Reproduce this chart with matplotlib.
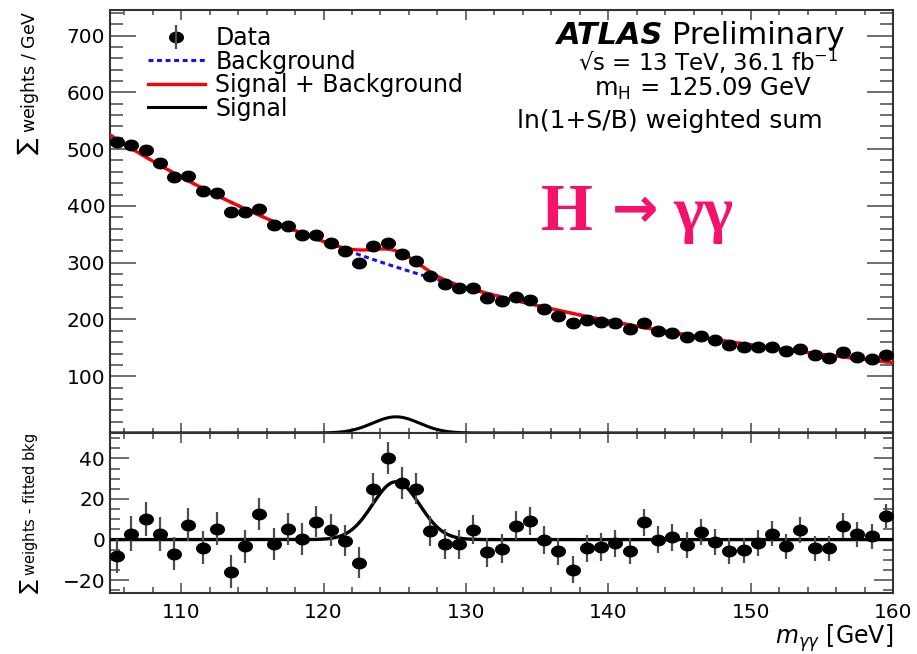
import numpy as np
import matplotlib
matplotlib.use("Agg")
import matplotlib.pyplot as plt
from matplotlib.path import Path
from matplotlib.ticker import MultipleLocator, FixedLocator

plt.rcParams['font.family'] = ['DejaVu Sans']
plt.rcParams['mathtext.fontset'] = 'dejavusans'

# --- binning: 1 GeV bins in m_yy ---
m_lo, m_hi = 105.0, 160.0
bin_width = 1.0
mass = np.arange(m_lo + bin_width / 2, m_hi, bin_width)

# ln(1+S/B) weighted sum per GeV
weighted_sum = [512, 507, 498, 476, 451, 452, 426, 423, 389, 390,
                394, 367, 365, 349, 348, 334, 320, 299, 329, 334,
                315, 303, 276, 262, 255, 255, 237, 233, 239, 234,
                219, 206, 194, 199, 196, 193, 183, 194, 180, 177,
                169, 171, 164, 155, 151, 152, 152, 144, 148, 137,
                132, 142, 134, 130, 138]

# weighted sum minus fitted background
residual = [-8.1, 3.0, 10.1, 2.8, -6.9, 7.4, -3.9, 5.4, -15.8, -3.2,
            12.6, -2.2, 5.4, 0.1, 8.9, 4.6, -0.5, -11.3, 25.1, 40.2,
            27.9, 25.1, 4.2, -2.3, -2.3, 4.9, -6.3, -4.4, 6.9, 9.0,
            -0.2, -5.8, -14.8, -4.3, -3.6, -1.8, -5.6, 8.6, 0.0, 1.1,
            -2.5, 3.6, -1.0, -5.6, -5.3, -1.7, 3.0, -3.3, 4.7, -4.3,
            -4.3, 6.9, 2.6, 1.6, 11.5]

stat_err = [8.5, 8.5, 8.4, 8.4, 8.3, 8.3, 8.2, 8.2, 8.1, 8.1,
            8.0, 8.0, 7.9, 7.9, 7.8, 7.8, 7.7, 7.7, 7.7, 7.8,
            7.7, 7.6, 7.4, 7.3, 7.2, 7.1, 7.1, 7.0, 7.0, 6.9,
            6.9, 6.8, 6.8, 6.7, 6.7, 6.6, 6.6, 6.6, 6.5, 6.5,
            6.4, 6.4, 6.4, 6.3, 6.3, 6.3, 6.2, 6.2, 6.2, 6.1,
            6.1, 6.1, 6.0, 6.0, 6.0]

# fit result: ln B = p0 + p1*t + p2*t^2 (t = m - 105), gaussian signal
bkg_pars = [6.263, -0.03079, 8.28e-5]
sig_amp, sig_mean, sig_sigma = 28.5, 125.09, 1.65


def bkg(m):
    t = m - m_lo
    return np.exp(bkg_pars[0] + bkg_pars[1] * t + bkg_pars[2] * t ** 2)


def sig(m):
    return sig_amp * np.exp(-0.5 * ((m - sig_mean) / sig_sigma) ** 2)


mm = np.linspace(m_lo, m_hi, 800)

# slightly flattened dot marker
th = np.linspace(0, 2 * np.pi, 64)
dot = Path(np.column_stack([1.3 * np.cos(th), np.sin(th)]))

W, H = 917, 654
fig = plt.figure(figsize=(W / 100, H / 100), dpi=100)
ax = fig.add_axes([110 / W, 1 - 433 / H, 783 / W, 423 / H])
ax2 = fig.add_axes([110 / W, 1 - 593 / H, 783 / W, 160 / H])

err_kw = dict(fmt='none', ecolor='#4d4d4d', elinewidth=1.6, capsize=0, zorder=4)
mk_kw = dict(ls='none', marker=dot, ms=9.8, color='black', zorder=5)

# --- main panel ---
ax.plot(mm, bkg(mm), color='#1010ff', lw=2.2, ls=(0, (1.6, 1.2)), zorder=2)
ax.plot(mm, bkg(mm) + sig(mm), color='red', lw=2.4, zorder=3)
ax.plot(mm, sig(mm), color='black', lw=2.2, zorder=3)
ax.errorbar(mass, weighted_sum, yerr=stat_err, **err_kw)
ax.plot(mass, weighted_sum, **mk_kw)

ax.set_xlim(m_lo, m_hi)
ax.set_ylim(0, 745)
ax.xaxis.set_major_locator(MultipleLocator(10))
ax.xaxis.set_minor_locator(MultipleLocator(2))
ax.yaxis.set_major_locator(FixedLocator([100, 200, 300, 400, 500, 600, 700]))
ax.yaxis.set_minor_locator(MultipleLocator(20))
ax.tick_params(which='both', direction='in', top=True, right=True,
               labelbottom=False, colors='#555555', labelcolor='black',
               labelsize=14.5, width=1.2)
ax.tick_params(axis='y', which='major', length=18.5, pad=3.5)
ax.tick_params(axis='y', which='minor', length=9.3)
ax.tick_params(axis='x', which='major', length=7.2)
ax.tick_params(axis='x', which='minor', length=3.6)
ax.set_ylabel(r'$\sum$ weights / GeV', loc='top', fontsize=12.5)
ax.yaxis.set_label_coords(-0.088, 1.0)

# legend
data_h = ax.errorbar([], [], yerr=[], fmt='none', ecolor='#4d4d4d', elinewidth=1.6)
data_h = (ax.plot([], [], ls='none', marker=dot, ms=9.8, color='black')[0], data_h)
bkg_h, = ax.plot([], [], color='#1010ff', lw=2.2, ls=(0, (1.6, 1.2)))
sb_h, = ax.plot([], [], color='red', lw=2.4)
s_h, = ax.plot([], [], color='black', lw=2.2)
ax.legend([data_h, bkg_h, sb_h, s_h],
          ['Data', 'Background', 'Signal + Background', 'Signal'],
          loc='upper left', bbox_to_anchor=(148 / W, 1 - 26 / H),
          bbox_transform=fig.transFigure, frameon=False, fontsize=17,
          handlelength=2.4, handletextpad=0.45, labelspacing=-0.02,
          borderpad=0, borderaxespad=0)

# --- residual panel ---
ax2.plot(mm, sig(mm), color='black', lw=2.4, zorder=3)
ax2.errorbar(mass, residual, yerr=stat_err, **err_kw)
ax2.plot(mass, residual, **mk_kw)

ax2.set_xlim(m_lo, m_hi)
ax2.set_ylim(-26.3, 52.5)
ax2.xaxis.set_major_locator(MultipleLocator(10))
ax2.xaxis.set_minor_locator(MultipleLocator(2))
ax2.yaxis.set_major_locator(MultipleLocator(20))
ax2.yaxis.set_minor_locator(MultipleLocator(5))
ax2.tick_params(which='both', direction='in', top=True, right=True,
                colors='#555555', labelcolor='black', labelsize=14.5, width=1.2)
ax2.tick_params(axis='y', which='major', length=13.7, pad=3.5)
ax2.tick_params(axis='y', which='minor', length=7.2)
ax2.tick_params(axis='x', which='major', length=7.2, pad=7)
ax2.tick_params(axis='x', which='minor', length=4.3)
ax2.set_ylabel(r'$\sum$ weights - fitted bkg', fontsize=10.5)
ax2.yaxis.set_label_coords(-0.088, 0.5)
ax2.set_xlabel(r'$m_{\gamma\gamma}$ [GeV]', loc='right', fontsize=17)
ax2.xaxis.set_label_coords(1.0, -0.18)

for a in (ax, ax2):
    for s in a.spines.values():
        s.set_color('#333333')
        s.set_linewidth(1.5)

# --- annotations ---
fig.text(663 / W, 1 - 44 / H, 'ATLAS', ha='right', va='baseline',
         fontsize=22, fontweight='bold', fontstyle='italic')
fig.text(672 / W, 1 - 44 / H, 'Preliminary', ha='left', va='baseline', fontsize=22)
fig.text(708 / W, 1 - 71 / H, '√s = 13 TeV, 36.1 fb$^{-1}$',
         ha='center', va='baseline', fontsize=16.5)
fig.text(703 / W, 1 - 96 / H, r'm$_{\mathrm{H}}$ = 125.09 GeV',
         ha='center', va='baseline', fontsize=17.5)
fig.text(670 / W, 1 - 128 / H, 'ln(1+S/B) weighted sum',
         ha='center', va='baseline', fontsize=18)

pink = '#f5126a'
serif = ['Liberation Serif', 'DejaVu Serif']
fig.text(567 / W, 1 - 230 / H, 'H', ha='center', va='baseline', color=pink,
         fontsize=48, fontweight='bold', family=serif)
fig.text(635 / W, 1 - 212 / H, '→', ha='center', va='center', color=pink,
         fontsize=40, fontweight='bold', family='DejaVu Sans')
fig.text(703 / W, 1 - 230 / H, 'γγ', ha='center', va='baseline', color=pink,
         fontsize=46, fontweight='bold', family=serif)

fig.savefig('out.png', dpi=100)
